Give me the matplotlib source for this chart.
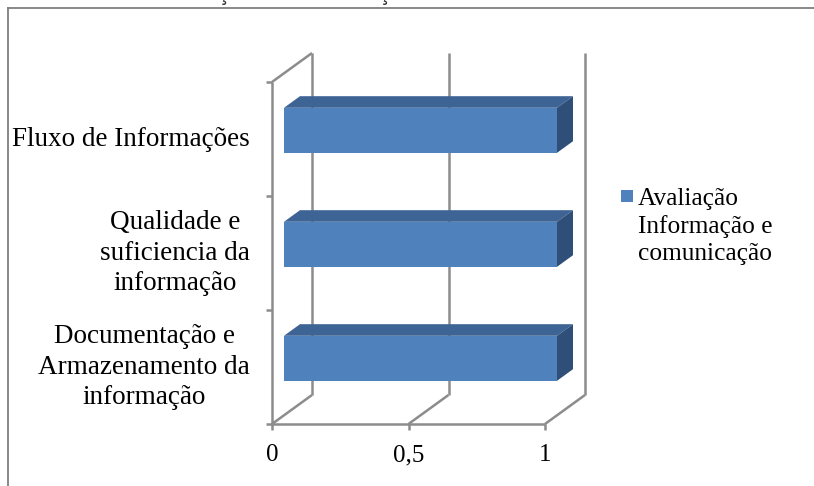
import matplotlib
matplotlib.use("Agg")
import matplotlib.pyplot as plt
from matplotlib.patches import Polygon, Rectangle

# ---- data ----
categories = ["Documentação e\nArmazenamento da\ninformação",
              "Qualidade e\nsuficiencia da\ninformação",
              "Fluxo de Informações"]
values = [1, 1, 1]
xticks = [0, 0.5, 1]
xtick_labels = ["0", "0,5", "1"]
series_label = "Avaliação\nInformação e\ncomunicação"
title_text = "Gráfico 10 – Informação e Comunicação"

# ---- style ----
W, H, DPI = 814, 486, 100
FRONT = "#4F81BD"
TOP = "#3D6494"
SIDE = "#2F4F78"
GRID = "#8C8C8C"
SERIF = ["Liberation Serif", "DejaVu Serif"]

fig = plt.figure(figsize=(W / DPI, H / DPI), dpi=DPI)
fig.patch.set_facecolor("white")

# pixel geometry of the front plane
x0_px, x1_px = 272, 545
yb_px, yt_px = 424, 82
depth_dx_px, depth_dy_px = 40, 29
xmax = 1.0
ncat = len(categories)

ax = fig.add_axes([x0_px / W, (H - yb_px) / H,
                   (x1_px - x0_px) / W, (yb_px - yt_px) / H])
ax.set_xlim(0, xmax)
ax.set_ylim(0, ncat)
ax.axis("off")

# depth in data units
ddx = depth_dx_px / (x1_px - x0_px) * xmax
ddy = depth_dy_px / (yb_px - yt_px) * ncat

lw = 1.8
kw = dict(color=GRID, lw=lw, clip_on=False, solid_capstyle="butt", zorder=1)

# back wall vertical gridlines + floor diagonals
for t in xticks:
    ax.plot([t + ddx, t + ddx], [ddy, ncat + ddy], **kw)
    ax.plot([t, t + ddx], [0, ddy], **kw)
# left wall
ax.plot([0, 0], [0, ncat], **kw)
ax.plot([0, ddx], [ncat, ncat + ddy], **kw)
# floor front line
ax.plot([0, xmax], [0, 0], **kw)
# ticks
tick_px = 6
for t in xticks:
    ax.plot([t, t], [0, -tick_px / (yb_px - yt_px) * ncat], **kw)
for k in range(ncat + 1):
    ax.plot([0, -tick_px / (x1_px - x0_px) * xmax], [k, k], **kw)

# 3D bars
bh = 0.395
f0, f1 = 0.3, 0.7
for i, v in enumerate(values):
    yc = i + 0.5
    ylo, yhi = yc - bh / 2, yc + bh / 2
    fx, fy = f0 * ddx, f0 * ddy
    bx, by = f1 * ddx, f1 * ddy
    front = Polygon([(fx, ylo + fy), (v + fx, ylo + fy), (v + fx, yhi + fy), (fx, yhi + fy)],
                    closed=True, facecolor=FRONT, edgecolor="none", clip_on=False, zorder=3)
    top = Polygon([(fx, yhi + fy), (v + fx, yhi + fy), (v + bx, yhi + by), (bx, yhi + by)],
                  closed=True, facecolor=TOP, edgecolor="none", clip_on=False, zorder=3)
    side = Polygon([(v + fx, ylo + fy), (v + bx, ylo + by), (v + bx, yhi + by), (v + fx, yhi + fy)],
                   closed=True, facecolor=SIDE, edgecolor="none", clip_on=False, zorder=3)
    for p in (front, top, side):
        ax.add_patch(p)

# category labels
for i, lab in enumerate(categories):
    ax.annotate(lab, xy=(0, i + 0.5), xytext=(-22, 0), textcoords="offset pixels",
                ha="right", va="center", multialignment="center",
                family=SERIF, fontsize=19.5, linespacing=1.28, color="black",
                annotation_clip=False)

# x tick labels
for t, lab in zip(xticks, xtick_labels):
    ax.annotate(lab, xy=(t, 0), xytext=(0, -31), textcoords="offset pixels",
                ha="center", va="center", family=SERIF, fontsize=18, color="black",
                annotation_clip=False)

# legend (drawn manually so the key aligns with the first text line)
fig.add_artist(Rectangle((621 / W, (H - 202) / H), 12 / W, 12 / H,
                         transform=fig.transFigure, facecolor=FRONT, edgecolor="none"))
fig.text(638 / W, (H - 188) / H, series_label, family=SERIF, fontsize=18.3,
         linespacing=1.29, ha="left", va="top", color="black")

# outer frame (left and top edges visible)
fig.add_artist(plt.Line2D([7.5 / W, 7.5 / W], [0, (H - 8.5) / H], color="#7F7F7F", lw=1.3,
                          transform=fig.transFigure))
fig.add_artist(plt.Line2D([7.5 / W, 1], [(H - 8.5) / H, (H - 8.5) / H], color="#7F7F7F", lw=1.3,
                          transform=fig.transFigure))

# caption at top (mostly outside the page, as in the reference)
fig.text(15 / W, (H + 0.2) / H, title_text, family=["Liberation Sans", "DejaVu Sans"],
         fontsize=16, color="#333333", ha="left", va="baseline")

fig.savefig("out.png", dpi=DPI)
